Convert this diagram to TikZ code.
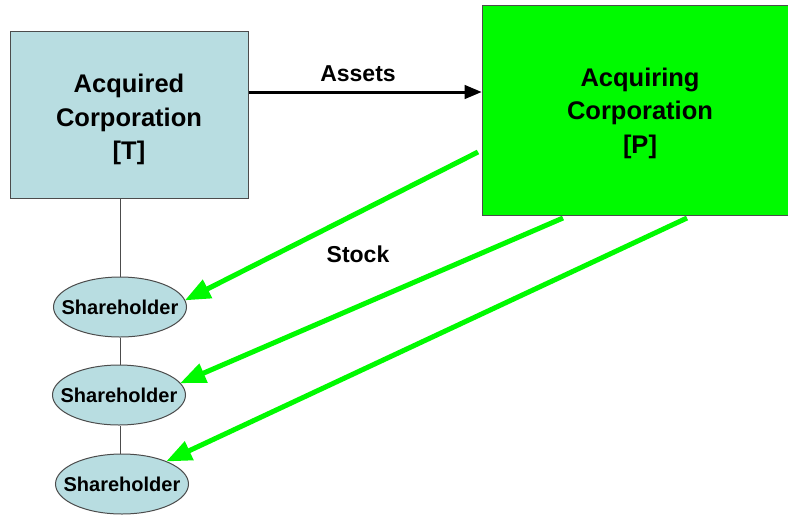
\documentclass[tikz,border=0pt]{standalone}
\usepackage{fontspec}
\setmainfont{Liberation Sans}
\usepackage{tikz}
\usetikzlibrary{arrows,shapes.geometric}

\definecolor{corpblue}{RGB}{184,221,225}
\definecolor{brightgreen}{RGB}{0,250,0}

\begin{document}
\begin{tikzpicture}
	[x=1pt,y=-1pt,>=triangle 45,
		corp box/.style={rectangle,draw=black!70,line width=1pt},
		corp text/.style={align=center,font=\bfseries\fontsize{25.5}{33.5}\selectfont},
		holder node/.style={ellipse,draw=black!70,line width=1pt,fill=corpblue,minimum width=133pt,minimum height=60pt,inner xsep=-14pt,inner ysep=0pt,font=\bfseries\fontsize{20}{22}\selectfont},
		stock edge/.style={->,brightgreen,line width=5pt},
		tag/.style={font=\bfseries\fontsize{23}{26}\selectfont}]

	\useasboundingbox (0,0) rectangle (788,515);

	\node[corp box, fill=corpblue, minimum width=238pt, minimum height=167pt] (T) at (129,114.5) {};
	\node[corp text] (Tlabel) at ([yshift=-5pt]T.center) {Acquired\\Corporation\\{[T]}};
	\node[corp box, fill=brightgreen, minimum width=310pt, minimum height=210pt] (P) at (637,110) {};
	\node[corp text] (Plabel) at ([xshift=3pt,yshift=-3pt]P.center) {Acquiring\\Corporation\\{[P]}};

	\node[holder node] (S1) at (120,307) {Shareholder};
	\node[holder node] (S2) at (119,395) {Shareholder};
	\node[holder node] (S3) at (122,484) {Shareholder};

	% free ends of the stock arrows
	\coordinate (a1) at (478,152);
	\coordinate (a2) at (563,218);
	\coordinate (a3) at (687,218);

	\node[tag] (assets) at (358,74) {Assets};
	\node[tag] (stock) at (358,254) {Stock};

	\draw[black!70, line width=1pt] (S1.north |- T.south) -- (S1.north);
	\draw[black!70, line width=1pt] (S1.north |- S1.south) -- (S1.north |- S2.north);
	\draw[black!70, line width=1pt] (S1.north |- S2.south) -- (S1.north |- S3.north);

	\path[->, line width=3pt]
	(T.east |- 0,92) edge (P.west |- 0,92)
	;

	\draw[stock edge] (a1) -- (S1.6);
	\draw[stock edge] (a2) -- (S2.11);
	\draw[stock edge] (a3) -- (S3.27);

\end{tikzpicture}
\end{document}
